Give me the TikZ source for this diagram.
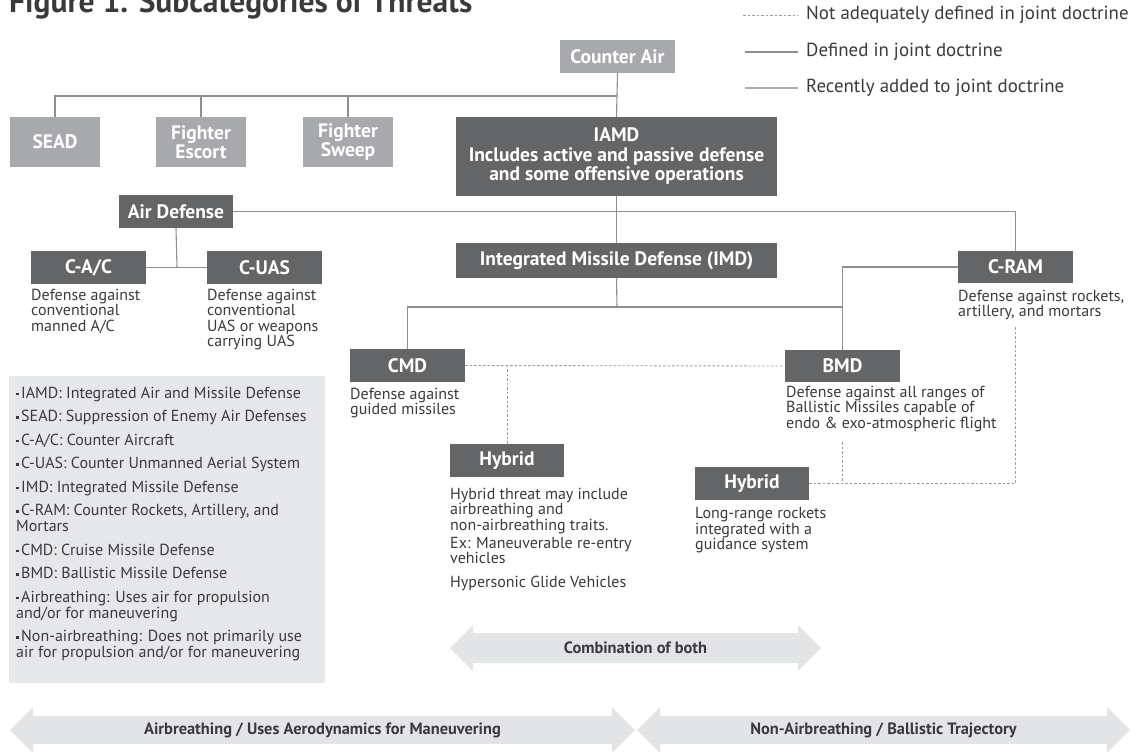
\documentclass[tikz,border=0pt]{standalone}
\usepackage{fontspec}
\setmainfont{PT Sans}
\definecolor{dk}{HTML}{646567}
\definecolor{lt}{HTML}{A7A9AC}
\definecolor{txt}{HTML}{3A3A3C}
\definecolor{lc}{HTML}{8E8F91}
\definecolor{lc2}{HTML}{ABACAE}
\definecolor{dc}{HTML}{9A9B9D}
\definecolor{ar}{HTML}{E3E4E5}
\definecolor{bg}{HTML}{E6E7E8}
\newcommand{\bsq}{\rule[2.8pt]{2.6pt}{2.6pt}\hspace{2.4pt}}
\begin{document}
\begin{tikzpicture}[x=1pt,y=-1pt,
  box/.style={inner sep=0pt, align=center, text=white, font=\bfseries\fontsize{19.5}{19.5}\selectfont},
  dbox/.style={box, fill=dk},
  lbox/.style={box, fill=lt},
  desc/.style={anchor=north west, inner sep=0pt, align=left, text=txt, font=\fontsize{16}{15.5}\selectfont},
  ln/.style={draw=lc, line width=1.1pt},
  dl/.style={draw=dc, line width=0.9pt, dash pattern=on 2.5pt off 2pt},
  arr/.style={fill=ar},
  arrtext/.style={inner sep=0pt, text=txt, font=\bfseries\fontsize{16.4}{18}\selectfont},
  legtext/.style={anchor=west, inner sep=0pt, text=txt, font=\fontsize{18.9}{20}\selectfont},
]
\useasboundingbox (0,0) rectangle (1137,753);

% title (top cut off as in the source)
\node[anchor=base west, inner sep=0pt, text=txt, font=\bfseries\fontsize{31.5}{34}\selectfont] (title) at (9,12) {Figure 1. Subcategories of Threats};

% legend of line styles
\coordinate (l1a) at (743,15); \coordinate (l1b) at (798,15);
\coordinate (l2a) at (745,52); \coordinate (l2b) at (798,52);
\coordinate (l3a) at (745,88); \coordinate (l3b) at (798,88);
\draw[dl] (l1a) -- (l1b);
\draw[ln] (l2a) -- (l2b);
\draw[draw=lc2, line width=1.1pt] (l3a) -- (l3b);
\node[legtext] (t1) at (806,15) {Not adequately defined in joint doctrine};
\node[legtext] (t2) at (806,52) {Defined in joint doctrine};
\node[legtext] (t3) at (806,88) {Recently added to joint doctrine};

% boxes
\node[lbox, minimum width=115, minimum height=33] (ca) at (617.5,56.5) {Counter Air};
\node[lbox, minimum width=90, minimum height=50] (sead) at (55,142) {SEAD};
\node[lbox, minimum width=90, minimum height=50] (esc) at (201,142) {Fighter\\Escort};
\node[lbox, minimum width=90, minimum height=50] (swp) at (348,142) {Fighter\\Sweep};
\node[dbox, minimum width=321, minimum height=79, font=\bfseries\fontsize{19.5}{19.5}\selectfont] (iamd) at (616.5,156.5) {IAMD\\Includes active and passive defense\\and some offensive operations};
\node[dbox, minimum width=114, minimum height=33] (ad) at (176,211.5) {Air Defense};
\node[dbox, minimum width=115, minimum height=33] (cac) at (88.5,267.5) {C-A/C};
\node[dbox, minimum width=115, minimum height=33] (cuas) at (264.5,267.5) {C-UAS};
\node[dbox, minimum width=321, minimum height=35] (imd) at (616.5,260.5) {Integrated Missile Defense (IMD)};
\node[dbox, minimum width=115, minimum height=32] (cram) at (1015.5,267) {C-RAM};
\node[dbox, minimum width=115, minimum height=33] (cmd) at (407.5,365.5) {CMD};
\node[dbox, minimum width=115, minimum height=32] (bmd) at (842.5,366) {BMD};
\node[dbox, minimum width=114, minimum height=33] (hyb1) at (507,460.5) {Hybrid};
\node[dbox, minimum width=114, minimum height=33] (hyb2) at (752,483.5) {Hybrid};

% descriptions
\node[desc] (dcac) at (31,288.5) {Defense against\\conventional\\manned A/C};
\node[desc] (dcuas) at (207,288.5) {Defense against\\conventional\\UAS or weapons\\carrying UAS};
\node[desc] (dcram) at (958,289.5) {Defense against rockets,\\artillery, and mortars};
\node[desc] (dcmd) at (350,387.5) {Defense against\\guided missiles};
\node[desc] (dbmd) at (786,385.5) {Defense against all ranges of\\Ballistic Missiles capable of\\endo \& exo-atmospheric flight};
\node[desc] (dhyb1) at (450,487.5) {Hybrid threat may include\\airbreathing and\\non-airbreathing traits.\\[2.5pt]Ex: Maneuverable re-entry\\vehicles\\[8pt]Hypersonic Glide Vehicles};
\node[desc] (dhyb2) at (695,507.5) {Long-range rockets\\integrated with a\\guidance system};

% solid connectors
\coordinate (jtop) at (617,96);
\coordinate (jad) at (177,267.5);
\coordinate (jm) at (617,307);
\draw[ln] (ca.south) -- (iamd.north);
\draw[ln] (sead.north) |- (jtop);
\draw[ln] (esc.north) -- (esc.north |- jtop);
\draw[ln] (swp.north) -- (swp.north |- jtop);
\draw[ln] (iamd.south) -- (imd.north);
\draw[ln] (ad.east) -| (cram.north);
\draw[ln] (ad.south) -- (jad);
\draw[ln] (cac.east) -- (cuas.west);
\draw[ln] (imd.south) -- (jm);
\draw[ln] (cmd.north) |- (jm) -| (bmd.north);
\draw[ln] (cram.west) -| (bmd.north);

% dashed connectors
\coordinate (cr) at (1015.5,327);
\coordinate (bd) at (842.5,442);
\draw[dl] (cmd.east) -- (bmd.west);
\draw[dl] (hyb1.north) -- (hyb1.north |- cmd.east);
\draw[dl] (hyb2.east) -| (cr);
\draw[dl] (bd) -- (bd |- hyb2.east);

% abbreviation box
\node[fill=bg, minimum width=316, minimum height=307, inner sep=0pt] (abbr) at (167,529.5) {};
\node[desc, font=\fontsize{16}{16}\selectfont] (abtext) at (16,386.5) {%
\bsq IAMD: Integrated Air and Missile Defense\\[7.5pt]
\bsq SEAD: Suppression of Enemy Air Defenses\\[7.5pt]
\bsq C-A/C: Counter Aircraft\\[7.5pt]
\bsq C-UAS: Counter Unmanned Aerial System\\[7.5pt]
\bsq IMD: Integrated Missile Defense\\[7.5pt]
\bsq C-RAM: Counter Rockets, Artillery, and\\Mortars\\[7.5pt]
\bsq CMD: Cruise Missile Defense\\[7.5pt]
\bsq BMD: Ballistic Missile Defense\\[7.5pt]
\bsq Airbreathing: Uses air for propulsion\\and/or for maneuvering\\[7.5pt]
\bsq Non-airbreathing: Does not primarily use\\air for propulsion and/or for maneuvering};

% big double arrows
\fill[arr] (450,648) -- (473,625) -- (473,633) -- (798,633) -- (798,625) -- (821,648) -- (798,671) -- (798,663) -- (473,663) -- (473,671) -- cycle;
\node[arrtext] (comb) at (635.5,648) {Combination of both};
\fill[arr] (10,730) -- (33,707) -- (33,716) -- (612,716) -- (612,707) -- (635,730) -- (612,753) -- (612,744) -- (33,744) -- (33,753) -- cycle;
\node[arrtext] (airb) at (322.5,730) {Airbreathing / Uses Aerodynamics for Maneuvering};
\fill[arr] (637,730) -- (660,707) -- (660,716) -- (1107,716) -- (1107,707) -- (1130,730) -- (1107,753) -- (1107,744) -- (660,744) -- (660,753) -- cycle;
\node[arrtext] (nonair) at (883.5,730) {Non-Airbreathing / Ballistic Trajectory};
\end{tikzpicture}
\end{document}
